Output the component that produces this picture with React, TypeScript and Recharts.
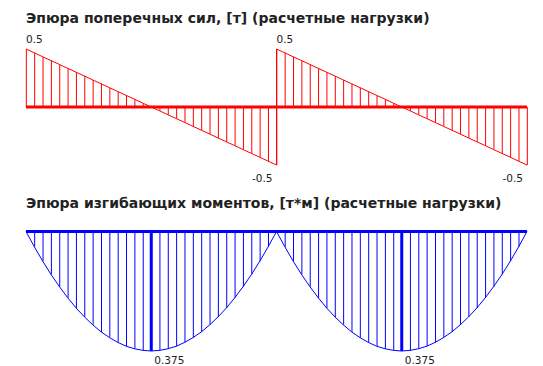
import React from 'react';
import { ComposedChart, Bar, Line, XAxis, YAxis, ReferenceLine, ReferenceDot } from 'recharts';

// stations along one span (30 hatch intervals)
const spanStations = [0, 1, 2, 3, 4, 5, 6, 7, 8, 9, 10, 11, 12, 13, 14, 15, 16, 17, 18, 19, 20, 21, 22, 23, 24, 25, 26, 27, 28, 29, 30];
const spanOffsets = [0, 30];

// shear force per station, [т]
const shearValues = [
  0.5, 0.467, 0.433, 0.4, 0.367, 0.333, 0.3, 0.267, 0.233, 0.2, 0.167, 0.133, 0.1, 0.067, 0.033, 0,
  -0.033, -0.067, -0.1, -0.133, -0.167, -0.2, -0.233, -0.267, -0.3, -0.333, -0.367, -0.4, -0.433, -0.467, -0.5
];

// bending moment per station, [т*м]
const momentValues = [
  0, 0.048, 0.093, 0.135, 0.173, 0.208, 0.24, 0.268, 0.293, 0.315, 0.333, 0.348, 0.36, 0.368, 0.373, 0.375,
  0.373, 0.368, 0.36, 0.348, 0.333, 0.315, 0.293, 0.268, 0.24, 0.208, 0.173, 0.135, 0.093, 0.048, 0
];

const shearLabels = [
  { x: 0, v: 0.5 },
  { x: 30, v: 0.5 },
  { x: 30, v: -0.5 },
  { x: 60, v: -0.5 }
];
const momentLabels = [
  { x: 15, v: 0.375 },
  { x: 45, v: 0.375 }
];

const shearTitle = 'Эпюра поперечных сил, [т] (расчетные нагрузки)';
const momentTitle = 'Эпюра изгибающих моментов, [т*м] (расчетные нагрузки)';

const buildData = (values: number[]) =>
  spanOffsets.flatMap(off => spanStations.map((s, i) => ({ x: s + off, v: values[i] })));

const shearData = buildData(shearValues);
const momentData = buildData(momentValues);

const RED = '#ff0000';
const BLUE = '#0000ff';
const labelFont = { fontFamily: 'DejaVu Sans', fontSize: 10.5, fill: '#222' };

const titleStyle: React.CSSProperties = {
  position: 'absolute',
  left: 26,
  fontFamily: 'DejaVu Sans',
  fontWeight: 'bold',
  fontSize: 14,
  lineHeight: '16px',
  color: '#222',
  whiteSpace: 'nowrap'
};

export default function App() {
  return (
    <div style={{ position: 'absolute', left: 0, top: 0, width: 543, height: 366, background: '#fff', overflow: 'hidden' }}>
      <div style={{ ...titleStyle, top: 10 }}>{shearTitle}</div>
      <div style={{ ...titleStyle, top: 195 }}>{momentTitle}</div>

      <div style={{ position: 'absolute', left: 0, top: 0 }}>
        <ComposedChart width={543} height={190} data={shearData} margin={{ top: 49, right: 16, bottom: 25, left: 26 }}>
          <XAxis type="number" dataKey="x" domain={[0, 60]} hide />
          <YAxis type="number" domain={[-0.5, 0.5]} hide />
          <Bar dataKey="v" barSize={1} fill={RED} isAnimationActive={false} />
          <Line type="linear" dataKey="v" stroke={RED} strokeWidth={1} dot={false} isAnimationActive={false} />
          <ReferenceLine y={0} stroke={RED} strokeWidth={3} />
          {shearLabels.map((l, i) => (
            <ReferenceDot
              key={i}
              x={l.x}
              y={l.v}
              r={0}
              stroke="none"
              fill="none"
              label={{
                content: (p: any) => {
                  const vb = p.viewBox;
                  const up = l.v > 0;
                  return (
                    <text
                      x={up ? vb.x : vb.x - 4}
                      y={up ? vb.y - 6 : vb.y + 16.5}
                      textAnchor={up ? 'start' : 'end'}
                      {...labelFont}
                    >
                      {String(l.v)}
                    </text>
                  );
                }
              }}
            />
          ))}
        </ComposedChart>
      </div>

      <div style={{ position: 'absolute', left: 0, top: 190 }}>
        <ComposedChart width={543} height={176} data={momentData} margin={{ top: 41.5, right: 16, bottom: 15, left: 26 }}>
          <XAxis type="number" dataKey="x" domain={[0, 60]} hide />
          <YAxis type="number" domain={[0, 0.375]} reversed hide />
          <Bar dataKey="v" barSize={1} fill={BLUE} isAnimationActive={false} />
          <Line type="linear" dataKey="v" stroke={BLUE} strokeWidth={1} dot={false} isAnimationActive={false} />
          <ReferenceLine y={0} stroke={BLUE} strokeWidth={3} />
          {momentLabels.map((l, i) => (
            <ReferenceLine key={'m' + i} x={l.x} stroke={BLUE} strokeWidth={3} />
          ))}
          {momentLabels.map((l, i) => (
            <ReferenceDot
              key={i}
              x={l.x}
              y={l.v}
              r={0}
              stroke="none"
              fill="none"
              label={{
                content: (p: any) => {
                  const vb = p.viewBox;
                  return (
                    <text x={vb.x + 3} y={vb.y + 12.5} textAnchor="start" {...labelFont}>
                      {String(l.v)}
                    </text>
                  );
                }
              }}
            />
          ))}
        </ComposedChart>
      </div>
    </div>
  );
}
